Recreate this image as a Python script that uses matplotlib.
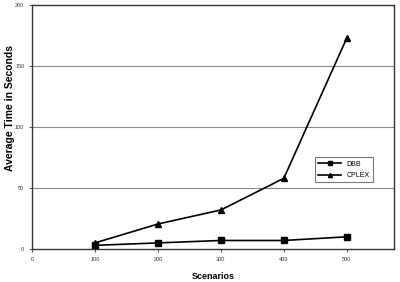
import matplotlib
matplotlib.use('Agg')
import matplotlib.pyplot as plt

# Data
scenarios = [100, 200, 300, 400, 500]
dbb_time = [3, 5, 7, 7, 10]
cplex_time = [5, 20.5, 32, 58, 173]
x_ticks = [0, 100, 200, 300, 400, 500]
y_ticks = [0, 50, 100, 150, 200]

plt.rcParams['font.family'] = ['Liberation Sans', 'DejaVu Sans']

fig = plt.figure(figsize=(4.0, 2.82), dpi=100)
ax = fig.add_axes([0.08, 0.117, 0.905, 0.865])

ax.plot(scenarios, dbb_time, color='black', lw=1.2, marker='s', ms=5, label='DBB')
ax.plot(scenarios, cplex_time, color='black', lw=1.2, marker='^', ms=5, label='CPLEX')

ax.set_xlim(0, 575)
ax.set_ylim(0, 200)
ax.set_xticks(x_ticks)
ax.set_yticks(y_ticks)
ax.tick_params(labelsize=4, length=2, width=0.6, colors='#333333')

# Horizontal grid lines
for y in y_ticks[1:-1]:
    ax.axhline(y, color='#888888', lw=0.8, zorder=0)

for s in ax.spines.values():
    s.set_linewidth(1.0)
    s.set_color('#333333')

ax.set_xlabel('Scenarios', fontsize=6.5, fontweight='bold')
ax.xaxis.set_label_coords(0.5, -0.095)
ax.set_ylabel('Average Time in Seconds', fontsize=7.5, fontweight='bold')
ax.yaxis.set_label_coords(-0.046, 0.58)

leg = ax.legend(loc='upper left', bbox_to_anchor=(0.772, 0.39), fontsize=5,
                frameon=True, fancybox=False, handlelength=3.2, markerscale=0.6,
                borderpad=0.5, labelspacing=0.6)
leg.get_frame().set_edgecolor('#555555')
leg.get_frame().set_linewidth(0.8)

plt.savefig('out.png', dpi=100)
